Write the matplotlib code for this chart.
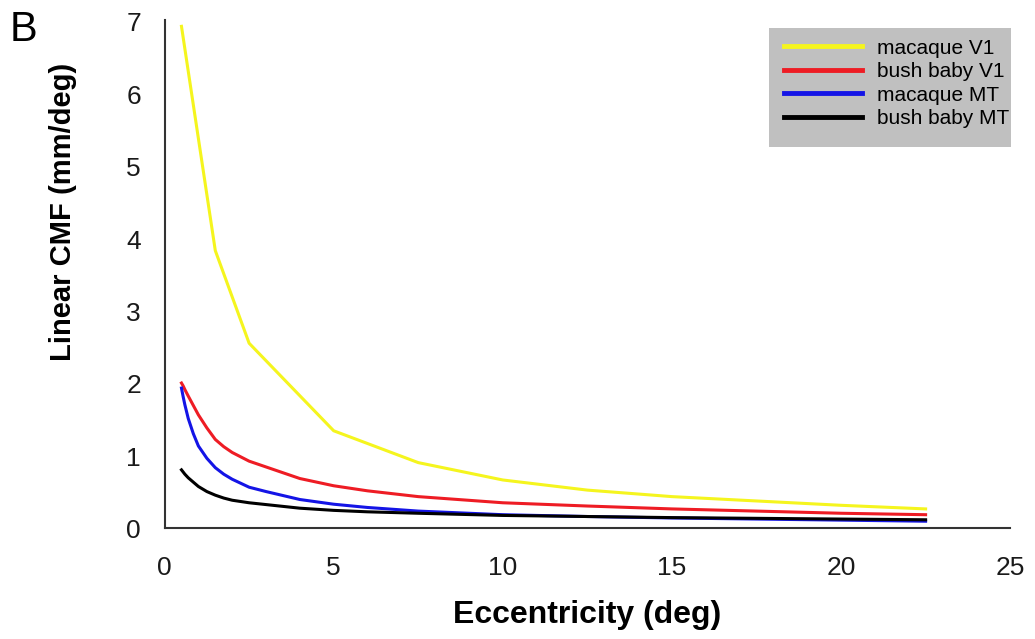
import numpy as np
import matplotlib
matplotlib.use("Agg")
import matplotlib.pyplot as plt
from matplotlib.patches import Rectangle

plt.rcParams['font.family'] = ['Liberation Sans', 'DejaVu Sans']

# values
ecc_v1_macaque = [0.5, 1.5, 2.5, 5, 7.5, 10, 12.5, 15, 17.5, 20, 22.5]
cmf_v1_macaque = [6.94, 3.84, 2.56, 1.35, 0.91, 0.67, 0.53, 0.44, 0.38, 0.32, 0.27]

ecc = [0.5, 0.55, 0.6, 0.7, 0.85, 1.0, 1.25, 1.5, 1.75, 2.0, 2.5, 3, 4, 5, 6, 7.5, 10, 12.5, 15, 17.5, 20, 22.5]
cmf_v1_bushbaby = [2.01, 1.97, 1.92, 1.83, 1.70, 1.57, 1.39, 1.23, 1.13, 1.05, 0.93, 0.85, 0.69,
                   0.59, 0.52, 0.44, 0.355, 0.31, 0.27, 0.24, 0.21, 0.19]
cmf_mt_macaque = [1.94, 1.82, 1.71, 1.52, 1.31, 1.14, 0.97, 0.84, 0.75, 0.68, 0.57, 0.51, 0.40,
                  0.335, 0.29, 0.24, 0.19, 0.165, 0.145, 0.13, 0.115, 0.10]
cmf_mt_bushbaby = [0.81, 0.78, 0.75, 0.70, 0.64, 0.58, 0.51, 0.46, 0.42, 0.39, 0.355, 0.33, 0.28,
                   0.25, 0.23, 0.21, 0.18, 0.165, 0.15, 0.14, 0.13, 0.12]

labels = ["macaque V1", "bush baby V1", "macaque MT", "bush baby MT"]
line_colors = ['#f5f51e', '#ee1c24', '#1414e6', '#000000']

W, H = 1035, 639
fig = plt.figure(figsize=(W / 100, H / 100), dpi=100)
ax = fig.add_axes([0.159, 0.173, 0.817, 0.796])

lw = 2.2
l1, = ax.plot(ecc_v1_macaque, cmf_v1_macaque, color=line_colors[0], lw=lw)
l2, = ax.plot(ecc, cmf_v1_bushbaby, color=line_colors[1], lw=lw)
l3, = ax.plot(ecc, cmf_mt_macaque, color=line_colors[2], lw=lw)
l4, = ax.plot(ecc, cmf_mt_bushbaby, color=line_colors[3], lw=lw)

ax.set_xlim(0, 25)
ax.set_ylim(0, 7.03)
ax.set_xticks([0, 5, 10, 15, 20, 25])
ax.set_yticks([0, 1, 2, 3, 4, 5, 6, 7])
ax.tick_params(axis='both', length=0, labelsize=19, colors='#1a1a1a')
ax.tick_params(axis='x', pad=20)
ax.tick_params(axis='y', pad=17)
for s in ['top', 'right']:
    ax.spines[s].set_visible(False)
for s in ['left', 'bottom']:
    ax.spines[s].set_linewidth(1.5)
    ax.spines[s].set_color('#333333')

ax.set_xlabel("Eccentricity (deg)", fontsize=23, fontweight='bold', labelpad=14)
fig.text(0.0605, 1 - 212 / H, "Linear CMF (mm/deg)", rotation=90, fontsize=21,
         fontweight='bold', ha='center', va='center')
fig.text(0.023, 1 - 30 / H, "B", fontsize=30, ha='center', va='center')

# grey legend box
box = Rectangle((769 / W, 1 - 147 / H), (1011 - 769) / W, (147 - 28) / H,
                transform=fig.transFigure, facecolor='#c0c0c0', edgecolor='none',
                clip_on=False, zorder=3)
ax.add_patch(box)

leg = ax.legend([l1, l2, l3, l4], labels, loc='upper left',
                bbox_to_anchor=(784 / W, 1 - 38.5 / H), bbox_transform=fig.transFigure,
                fontsize=15, frameon=False, handlelength=3.75, handletextpad=0.72,
                labelspacing=0.22, borderpad=0, borderaxespad=0)
leg.set_zorder(5)
for h in leg.get_lines():
    h.set_linewidth(3.5)

plt.savefig("out.png", dpi=100)
